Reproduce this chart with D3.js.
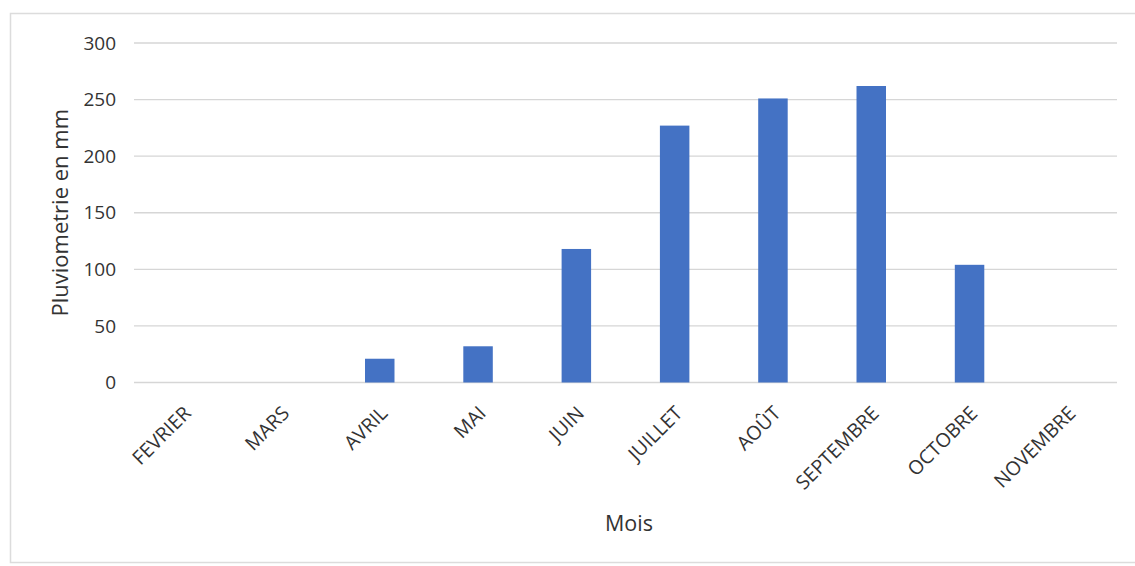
<!DOCTYPE html>
<html>
<head>
<meta charset="utf-8">
<script src="https://cdn.jsdelivr.net/npm/d3@7"></script>
<style>
  html, body { margin: 0; padding: 0; background: #ffffff; }
  svg { display: block; }
  text { font-family: "Open Sans", "Noto Sans", sans-serif; fill: #333333; }
</style>
</head>
<body>
<svg id="chart" width="1135" height="566"></svg>
<script>
// Monthly rainfall (mm)
const months = ["FEVRIER", "MARS", "AVRIL", "MAI", "JUIN", "JUILLET", "AOÛT", "SEPTEMBRE", "OCTOBRE", "NOVEMBRE"];
const rainfall = [0, 0, 21, 32, 118, 227, 251, 262, 104, 0];
const yTicks = [0, 50, 100, 150, 200, 250, 300];
const yTitle = "Pluviometrie en mm";
const xTitle = "Mois";

const svg = d3.select("#chart");
const W = 1135;
const plot = { left: 134, right: 1117, top: 43, bottom: 382.5 };
const font = "'Open Sans', 'Noto Sans', sans-serif";

// Chart frame
svg.append("rect")
  .attr("x", 10.5).attr("y", 13.5)
  .attr("width", W - 8).attr("height", 549)
  .attr("fill", "#ffffff")
  .attr("stroke", "#dcdcdc").attr("stroke-width", 1.5);

const x = d3.scaleBand()
  .domain(months)
  .range([plot.left, plot.right])
  .paddingInner(0.7)
  .paddingOuter(0.35);

const y = d3.scaleLinear()
  .domain([0, 300])
  .range([plot.bottom, plot.top]);

// Horizontal gridlines
svg.append("g")
  .selectAll("line")
  .data(yTicks)
  .join("line")
  .attr("x1", plot.left).attr("x2", plot.right)
  .attr("y1", d => y(d)).attr("y2", d => y(d))
  .attr("stroke", "#d6d6d6").attr("stroke-width", 1.3);

// Y axis labels
const yAxis = d3.axisLeft(y).tickValues(yTicks).tickSize(0).tickPadding(0);
const gy = svg.append("g")
  .attr("transform", `translate(${plot.left - 18},0)`)
  .call(yAxis);
gy.select(".domain").remove();
gy.selectAll("text")
  .style("font-family", font)
  .style("font-size", "19px")
  .attr("fill", "#333333");

// Bars
svg.append("g")
  .selectAll("rect")
  .data(months.map((m, i) => ({ m, v: rainfall[i] })))
  .join("rect")
  .attr("x", d => x(d.m))
  .attr("width", x.bandwidth())
  .attr("y", d => y(d.v))
  .attr("height", d => y(0) - y(d.v))
  .attr("fill", "#4472c4");

// X axis labels, rotated
const xAxis = d3.axisBottom(x).tickSize(0).tickPadding(0);
const gx = svg.append("g")
  .attr("transform", `translate(0,${plot.bottom})`)
  .call(xAxis);
gx.select(".domain").remove();
gx.selectAll("text")
  .style("font-family", font)
  .style("font-size", "19.5px")
  .attr("fill", "#333333")
  .attr("text-anchor", "end")
  .attr("dy", null)
  .attr("y", 0)
  .attr("transform", "translate(9,32) rotate(-45)");

// Axis titles
svg.append("text")
  .attr("transform", `translate(68,${(plot.top + plot.bottom) / 2}) rotate(-90)`)
  .attr("text-anchor", "middle")
  .style("font-size", "22px")
  .text(yTitle);

svg.append("text")
  .attr("x", 629).attr("y", 531)
  .attr("text-anchor", "middle")
  .style("font-size", "21.5px")
  .text(xTitle);
</script>
</body>
</html>
